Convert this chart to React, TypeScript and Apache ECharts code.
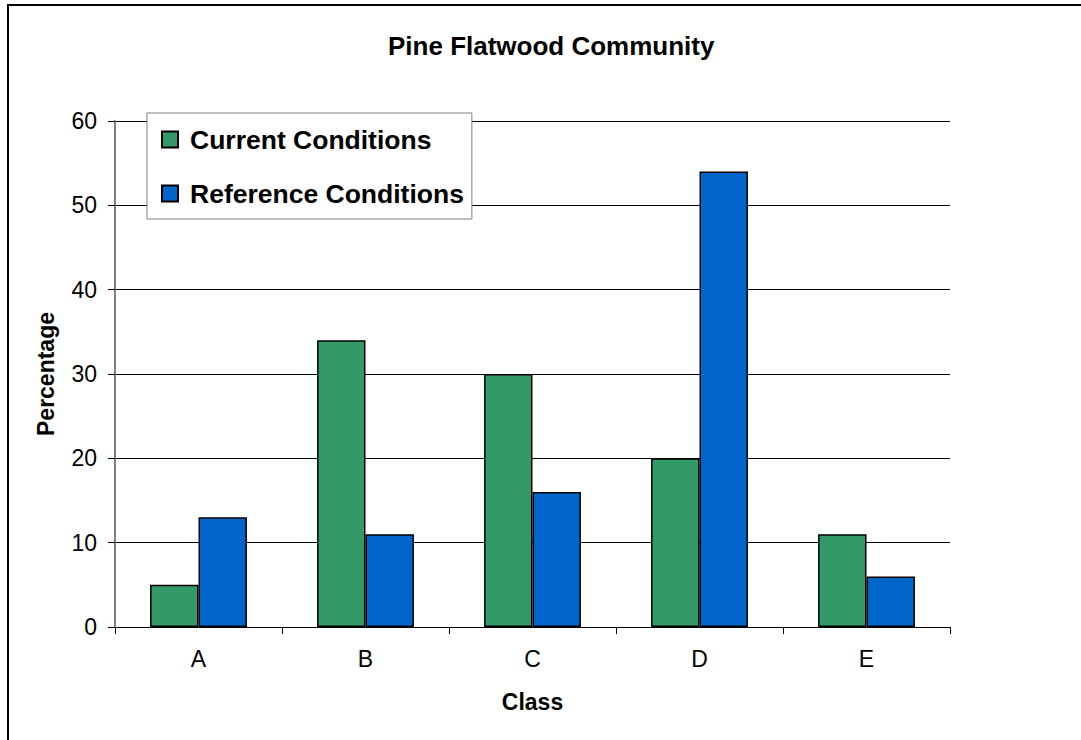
import React, { useEffect, useRef } from "react";
import * as echarts from "echarts";

const categories = ["A", "B", "C", "D", "E"];
const currentConditions = [5, 34, 30, 20, 11];
const referenceConditions = [13, 11, 16, 54, 6];
const yTicks = { min: 0, max: 60, interval: 10 };

export default function App() {
  const ref = useRef<HTMLDivElement>(null);
  useEffect(() => {
    if (!ref.current) return;
    const chart = echarts.init(ref.current, null, { renderer: "svg" });
    const font = "Arial, 'Liberation Sans', sans-serif";
    chart.setOption({
      animation: false,
      backgroundColor: "#ffffff",
      title: {
        text: "Pine Flatwood Community",
        left: 383,
        top: 28,
        textStyle: { fontFamily: font, fontSize: 26, fontWeight: "bold", color: "#000" },
      },
      graphic: [
        {
          type: "rect",
          shape: { x: 8, y: 5, width: 1200, height: 900 },
          style: { fill: "none", stroke: "#000", lineWidth: 2 },
          silent: true,
          z: 100,
        },
      ],
      legend: {
        orient: "vertical",
        left: 147,
        top: 113,
        padding: [13, 8, 12, 14],
        backgroundColor: "#fff",
        borderColor: "#808080",
        borderWidth: 1,
        itemWidth: 16,
        itemHeight: 16,
        itemGap: 27,
        icon: "rect",
        textStyle: { fontFamily: font, fontSize: 26.5, fontWeight: "bold", color: "#000", padding: [0, 0, 0, 7] },
        data: ["Current Conditions", "Reference Conditions"],
        z: 10,
      },
      grid: { left: 115, right: 131, top: 121, bottom: 113, containLabel: false },
      xAxis: {
        type: "category",
        data: categories,
        name: "Class",
        nameLocation: "middle",
        nameGap: 63,
        nameTextStyle: { fontFamily: font, fontSize: 23, fontWeight: "bold", color: "#000" },
        axisLine: { lineStyle: { color: "#000", width: 1 } },
        axisTick: { show: true, alignWithLabel: false, length: 7, lineStyle: { color: "#000" } },
        axisLabel: { fontFamily: font, fontSize: 23, color: "#000", margin: 20 },
      },
      yAxis: {
        type: "value",
        min: yTicks.min,
        max: yTicks.max,
        interval: yTicks.interval,
        name: "Percentage",
        nameLocation: "middle",
        nameGap: 58,
        nameRotate: 90,
        nameTextStyle: { fontFamily: font, fontSize: 23, fontWeight: "bold", color: "#000" },
        axisLine: { show: true, lineStyle: { color: "#808080", width: 2 } },
        axisTick: { show: true, length: 7, lineStyle: { color: "#000" } },
        axisLabel: { fontFamily: font, fontSize: 23, color: "#000", margin: 18 },
        splitLine: { show: true, lineStyle: { color: "#000", width: 1 } },
      },
      series: [
        {
          name: "Current Conditions",
          type: "bar",
          data: currentConditions,
          barGap: "0%",
          barCategoryGap: "42%",
          itemStyle: { color: "#339966", borderColor: "#000", borderWidth: 1.5 },
        },
        {
          name: "Reference Conditions",
          type: "bar",
          data: referenceConditions,
          barGap: "0%",
          barCategoryGap: "42%",
          itemStyle: { color: "#0066CC", borderColor: "#000", borderWidth: 1.5 },
        },
      ],
    });
    return () => chart.dispose();
  }, []);
  return <div ref={ref} style={{ width: 1081, height: 740, position: "absolute", left: 0, top: 0 }} />;
}
